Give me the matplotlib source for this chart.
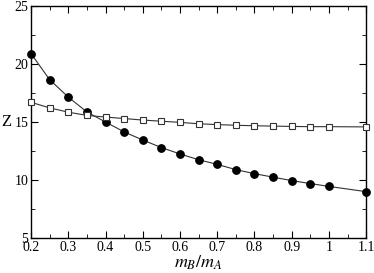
import matplotlib
matplotlib.use("Agg")
import matplotlib.pyplot as plt
from matplotlib.ticker import MultipleLocator

plt.rcParams['font.family'] = ['Liberation Serif', 'DejaVu Serif']
plt.rcParams['mathtext.fontset'] = 'stix'

# mass ratio mB/mA
ratio = [0.2, 0.25, 0.3, 0.35, 0.4, 0.45, 0.5, 0.55, 0.6, 0.65, 0.7,
         0.75, 0.8, 0.85, 0.9, 0.95, 1.0, 1.1]
# filled circles
z_circle = [20.9, 18.65, 17.15, 15.87, 15.0, 14.15, 13.45, 12.8, 12.25,
            11.75, 11.35, 10.9, 10.55, 10.25, 9.95, 9.7, 9.45, 9.0]
# open squares
z_square = [16.7, 16.22, 15.85, 15.57, 15.43, 15.3, 15.17, 15.07, 14.97,
            14.85, 14.78, 14.72, 14.68, 14.65, 14.62, 14.6, 14.6, 14.58]

fig = plt.figure(figsize=(3.74, 2.73), dpi=100)
ax = fig.add_axes([0.083, 0.128, 0.896, 0.85])

ax.plot(ratio, z_circle, '-', color='#333333', lw=0.8, marker='o',
        ms=5.3, mfc='black', mec='black', clip_on=False, zorder=3)
ax.plot(ratio, z_square, '-', color='#333333', lw=0.8, marker='s',
        ms=4.3, mfc='white', mec='#333333', mew=0.8, clip_on=False, zorder=3)

ax.set_xlim(0.2, 1.1)
ax.set_ylim(5, 25)
ax.xaxis.set_minor_locator(MultipleLocator(0.05))
ax.yaxis.set_minor_locator(MultipleLocator(2.5))
ax.set_xticks([0.2, 0.3, 0.4, 0.5, 0.6, 0.7, 0.8, 0.9, 1.0, 1.1])
ax.set_xticklabels(['0.2', '0.3', '0.4', '0.5', '0.6', '0.7', '0.8', '0.9', '1', '1.1'])
ax.set_yticks([5, 10, 15, 20, 25])
ax.set_yticklabels(['5', '10', '15', '20', '25'])
ax.tick_params(which='both', direction='in', top=True, right=True,
               labelsize=10, pad=2)
ax.tick_params(which='major', length=5)
ax.tick_params(which='minor', length=3)
for s in ax.spines.values():
    s.set_linewidth(1.0)

ax.set_xlabel(r'$m_B/m_A$', fontsize=13, labelpad=0)
ax.text(-0.075, 15, 'Z', transform=ax.get_yaxis_transform(), fontsize=12,
        ha='center', va='center')

fig.savefig('out.png', dpi=100)
